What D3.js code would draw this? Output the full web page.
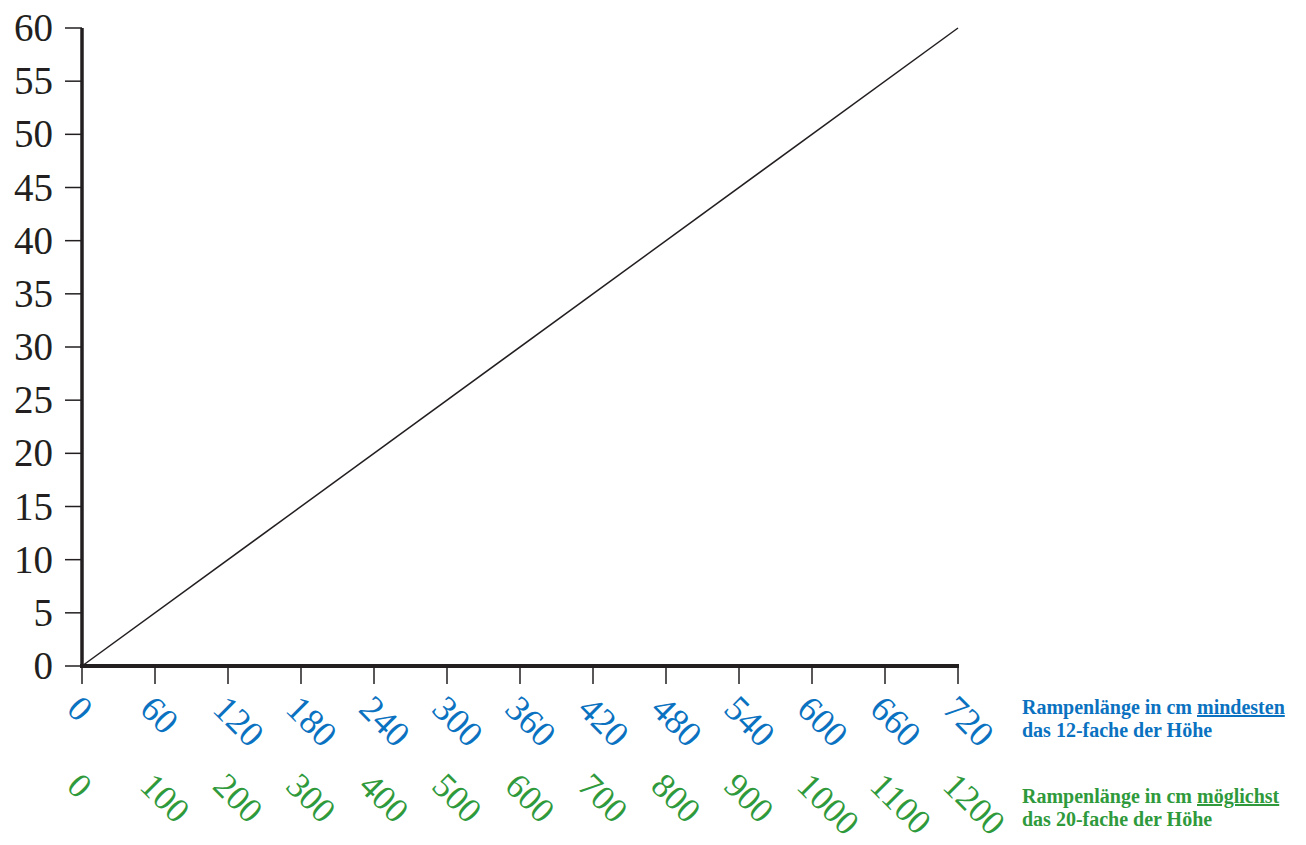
<!DOCTYPE html>
<html>
<head>
<meta charset="utf-8">
<script src="https://cdn.jsdelivr.net/npm/d3@7"></script>
<style>
  body { margin: 0; background: #fff; }
  text { font-family: "Liberation Serif", "DejaVu Serif", serif; }
</style>
</head>
<body>
<script>
// values
let yTicks = [0, 5, 10, 15, 20, 25, 30, 35, 40, 45, 50, 55, 60];
let lengthMin = [0, 60, 120, 180, 240, 300, 360, 420, 480, 540, 600, 660, 720];
let lengthRec = [0, 100, 200, 300, 400, 500, 600, 700, 800, 900, 1000, 1100, 1200];
let linePoints = [[0, 0], [720, 60]];

let blue = "#0a72c0";
let green = "#2f9a3c";

let viz = d3.select("body")
  .append("svg")
    .attr("width", 1306)
    .attr("height", 845);

let x = d3.scaleLinear().domain([0, 720]).range([82, 958]);
let y = d3.scaleLinear().domain([0, 60]).range([666, 28]);

// y axis
let yAxis = viz.append("g");
yAxis.append("line")
  .attr("x1", x(0)).attr("x2", x(0))
  .attr("y1", y(60)).attr("y2", y(0))
  .attr("stroke", "#231f20").attr("stroke-width", 3.5);
yAxis.selectAll(".ytick").data(yTicks).enter()
  .append("line")
    .attr("class", "ytick")
    .attr("x1", x(0) - 17).attr("x2", x(0))
    .attr("y1", d => y(d)).attr("y2", d => y(d))
    .attr("stroke", "#231f20").attr("stroke-width", 1.5);
yAxis.selectAll(".ylab").data(yTicks).enter()
  .append("text")
    .attr("class", "ylab")
    .attr("x", 53)
    .attr("y", d => y(d) + 13)
    .attr("text-anchor", "end")
    .attr("font-size", 39)
    .attr("fill", "#231f20")
    .text(d => d);

// x axis
viz.append("line")
  .attr("x1", x(0) - 2).attr("x2", x(720) + 1)
  .attr("y1", y(0)).attr("y2", y(0))
  .attr("stroke", "#231f20").attr("stroke-width", 4);
viz.selectAll(".xtick").data(lengthMin).enter()
  .append("line")
    .attr("class", "xtick")
    .attr("x1", d => x(d)).attr("x2", d => x(d))
    .attr("y1", y(0)).attr("y2", y(0) + 18)
    .attr("stroke", "#231f20").attr("stroke-width", 1.5);

// blue labels (12-fache)
viz.selectAll(".blab").data(lengthMin).enter()
  .append("text")
    .attr("class", "blab")
    .attr("transform", d => "translate(" + (x(d) - 11) + "," + 705 + ") rotate(45)")
    .attr("font-size", 36)
    .attr("fill", blue)
    .attr("dominant-baseline", "middle")
    .text(d => d);

// green labels (20-fache), same tick positions
viz.selectAll(".glab").data(lengthRec).enter()
  .append("text")
    .attr("class", "glab")
    .attr("transform", (d, i) => "translate(" + (x(lengthMin[i]) - 11) + "," + 782 + ") rotate(45)")
    .attr("font-size", 35)
    .attr("fill", green)
    .attr("dominant-baseline", "middle")
    .text(d => d);

// line
viz.append("path")
  .datum(linePoints)
  .attr("d", d3.line().x(d => x(d[0])).y(d => y(d[1])))
  .attr("fill", "none")
  .attr("stroke", "#231f20")
  .attr("stroke-width", 1.5);

// legend
function legend(lines, color, top) {
  let t = viz.append("text")
    .attr("x", 1022).attr("y", top)
    .attr("font-size", 20)
    .attr("font-weight", "bold")
    .attr("fill", color);
  t.append("tspan").text(lines[0]);
  t.append("tspan").attr("text-decoration", "underline").text(lines[1]);
  t.append("tspan").attr("x", 1022).attr("dy", 23).text(lines[2]);
}
legend(["Rampenlänge in cm ", "mindesten", "das 12-fache der Höhe"], blue, 714);
legend(["Rampenlänge in cm ", "möglichst", "das 20-fache der Höhe"], green, 803);
</script>
</body>
</html>
